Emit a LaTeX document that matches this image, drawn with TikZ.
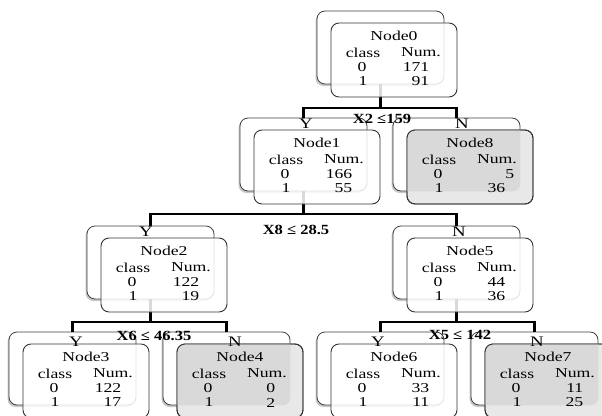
\documentclass[tikz,border=0pt]{standalone}
\usepackage{fontspec}
\setmainfont{Liberation Serif}[FakeStretch=1.3]
\newfontfamily\lblfont{Liberation Serif}[FakeStretch=1.18]

\tikzset{
  backbox/.style={draw=black!75, line width=0.8pt, fill=white, rounded corners=8pt,
    minimum width=127pt, minimum height=73pt, inner sep=0pt},
  boxshadow/.style={fill=black, opacity=0.22, rounded corners=8pt},
  frontbox/.style={draw=black!80, line width=0.9pt, fill=white, fill opacity=0.85,
    rounded corners=8pt, minimum width=126pt, minimum height=74pt, inner sep=0pt},
  leafbox/.style={frontbox, fill=black!9, fill opacity=1},
  rim/.style={frontbox, fill=none},
  overlapshade/.style={fill=black!15, rounded corners=8pt},
  conn/.style={line width=2.5pt, black},
  txt/.style={inner sep=0pt, text=black, font=\fontsize{13.6}{15}\selectfont},
  cond/.style={inner sep=0pt, text=black, font=\lblfont\bfseries\fontsize{14}{16}\selectfont},
  yn/.style={inner sep=0pt, text=black, font=\fontsize{14.5}{16}\selectfont},
}

% back card of a tree node, with a soft shadow
\newcommand\backcard[3]{% id, centre x, centre y
  \fill[boxshadow] ({#2-63.5-1.5},{#3-36.5+2}) rectangle ({#2+63.5-1.5},{#3+36.5+2});
  \node[backbox] (b#1) at (#2,#3) {};
}

% table text of a tree node
\newcommand\cardtext[6]{% id, centre x, centre y, title, count 0, count 1
  \node[txt] (t#1) at ({#2},{#3-24.5}) {#4};
  \node[txt] (hc#1) at ({#2-31},{#3-7.5}) {class};
  \node[txt] (hn#1) at ({#2+27},{#3-7.5}) {Num.};
  \node[txt] (z#1) at ({#2-32},{#3+7}) {0};
  \node[txt] (o#1) at ({#2-31},{#3+21.5}) {1};
  \node[txt, anchor=east] (za#1) at ({#2+35.5},{#3+7}) {#5};
  \node[txt, anchor=east] (oa#1) at ({#2+35.5},{#3+21.5}) {#6};
}

% front card of an inner node (white)
\newcommand\frontcard[6]{%
  \node[frontbox] (f#1) at (#2,#3) {};
  \cardtext{#1}{#2}{#3}{#4}{#5}{#6}
}

% front card of a leaf (grey); the part over the back card is a bit darker
\newcommand\leafcard[6]{%
  \node[leafbox] (f#1) at (#2,#3) {};
  \begin{scope}
    \clip[rounded corners=8pt] (f#1.south west) rectangle (f#1.north east);
    \fill[overlapshade] (b#1.south west) rectangle (b#1.north east);
  \end{scope}
  \node[rim] at (#2,#3) {};
  \cardtext{#1}{#2}{#3}{#4}{#5}{#6}
}

\begin{document}
\begin{tikzpicture}[x=1pt, y=-1pt]
  \useasboundingbox (0,0) rectangle (602,415);
  \clip (0,0) rectangle (602,415);

  % back cards
  \backcard{0}{380.5}{47.5}
  \backcard{1}{303.5}{154.5}
  \backcard{8}{456.5}{154.5}
  \backcard{2}{150.5}{262.5}
  \backcard{5}{456.5}{262.5}
  \backcard{3}{72.5}{368.5}
  \backcard{4}{226.5}{368.5}
  \backcard{6}{380.5}{368.5}
  \backcard{7}{534.5}{368.5}

  % branch junctions
  \coordinate (j0) at (380.5,108);
  \coordinate (j1) at (303.5,214);
  \coordinate (j2) at (150.5,322);
  \coordinate (j5) at (456.5,322);

  % connectors
  \draw[conn] (b0.south) -- (j0);
  \draw[conn] (b1.north) |- (j0) -| (b8.north);
  \draw[conn] (b1.south) -- (j1);
  \draw[conn] (b2.north) |- (j1) -| (b5.north);
  \draw[conn] (b2.south) -- (j2);
  \draw[conn] (b3.north) |- (j2) -| (b4.north);
  \draw[conn] (b5.south) -- (j5);
  \draw[conn] (b6.north) |- (j5) -| (b7.north);

  % front cards
  \frontcard{0}{394}{60}{Node0}{171}{91}
  \frontcard{1}{317}{167}{Node1}{166}{55}
  \leafcard{8}{470}{167}{Node8}{5\kern-10pt}{36}
  \frontcard{2}{164}{275}{Node2}{122}{19}
  \frontcard{5}{470}{275}{Node5}{44}{36}
  \frontcard{3}{86}{381}{Node3}{122}{17}
  \leafcard{4}{240}{381}{Node4}{0}{2}
  \frontcard{6}{394}{381}{Node6}{33}{11}
  \leafcard{7}{548}{381}{Node7}{11}{25}

  % branch answers
  \node[yn] (y1) at (306,124) {Y};
  \node[yn] (n8) at (462,124) {N};
  \node[yn] (y2) at (146,232) {Y};
  \node[yn] (n5) at (459,232) {N};
  \node[yn] (y3) at (76,342) {Y};
  \node[yn] (n4) at (235,342) {N};
  \node[yn] (y6) at (378,342) {Y};
  \node[yn] (n7) at (537,342) {N};

  % split conditions
  \node[cond] (c0) at (382,119) {X2 ≤159};
  \node[cond] (c1) at (296,230) {X8 ≤ 28.5};
  \node[cond] (c2) at (154,336) {X6 ≤ 46.35};
  \node[cond] (c5) at (460,335) {X5 ≤ 142};
\end{tikzpicture}
\end{document}
